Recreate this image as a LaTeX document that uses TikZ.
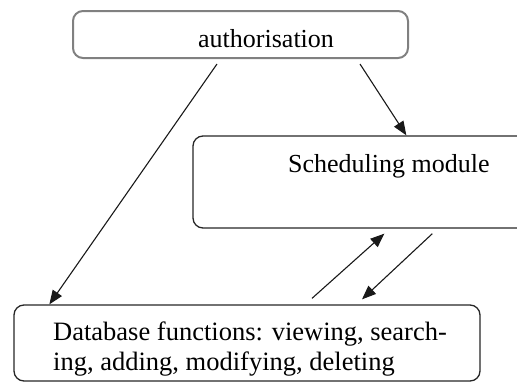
\documentclass[tikz,border=0pt]{standalone}
\usepackage{fontspec}
\setmainfont{Liberation Serif}
\usepackage{tikz}
\usetikzlibrary{arrows.meta, calc}

\tikzset{
	box/.style={draw=black!85, line width=1.3pt, rounded corners=10pt, inner sep=0pt},
	txt/.style={inner sep=0pt, font=\fontsize{26}{30}\selectfont},
	arr/.style={draw=black!90, line width=1.1pt, -{Triangle[length=14pt,width=11pt]}}
}

\begin{document}
\begin{tikzpicture}[x=1pt, y=-1pt]
	\useasboundingbox (0,0) rectangle (517,383);
	\clip (0,0) rectangle (517,383);
	
	\node[box, draw=black!50, line width=2pt, minimum width=335pt, minimum height=47pt] (auth) at (240.5,34.5) {};
	\node[box, minimum width=340pt, minimum height=92pt] (sched) at (363,182) {};
	\node[box, minimum width=466pt, minimum height=76pt] (db) at (247,343) {};
	
	\node[txt, anchor=base west] (authtxt) at (198,47) {authorisation};
	\node[txt, anchor=base west] (schedtxt) at (288,172) {Scheduling module};
	\node[txt, font=\fontsize{26.5}{30}\selectfont, anchor=north west, align=left] (dbtxt) at (53,322) {Database functions: viewing, search-\\ing, adding, modifying, deleting};
	
	\draw[arr] ($(auth.south)+(-23.5,5)$) -- ($(db.north west)+(36,0)$);
	\draw[arr] ($(auth.south)+(119.5,5)$) -- ($(sched.north west)+(214,0)$);
	\draw[arr] ($(db.north)+(65,-6)$) -- ($(sched.south west)+(192,5)$);
	\draw[arr] ($(sched.south west)+(240,5)$) -- ($(db.north)+(115,-5)$);
\end{tikzpicture}
\end{document}
